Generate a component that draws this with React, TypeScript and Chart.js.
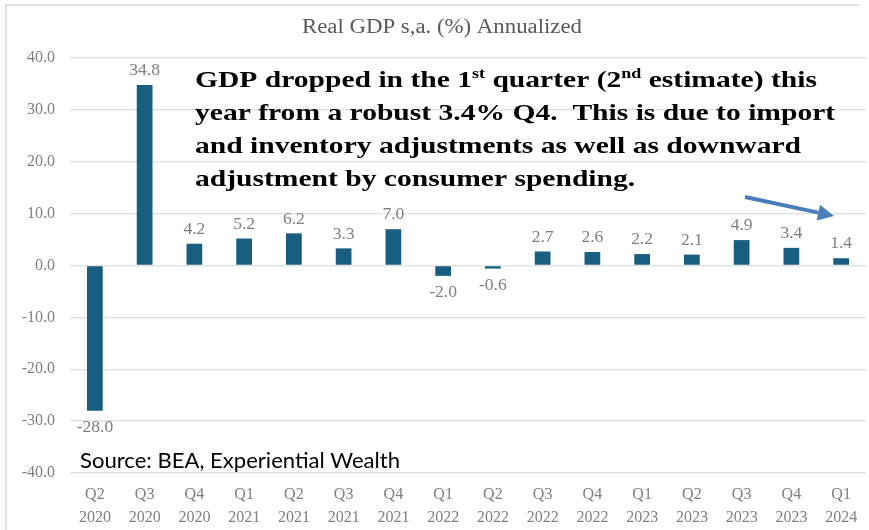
import React, { useEffect, useRef } from "react";
import { Chart, registerables } from "chart.js";

Chart.register(...registerables);

const categories: string[][] = [
  ["Q2", "2020"], ["Q3", "2020"], ["Q4", "2020"], ["Q1", "2021"],
  ["Q2", "2021"], ["Q3", "2021"], ["Q4", "2021"], ["Q1", "2022"],
  ["Q2", "2022"], ["Q3", "2022"], ["Q4", "2022"], ["Q1", "2023"],
  ["Q2", "2023"], ["Q3", "2023"], ["Q4", "2023"], ["Q1", "2024"],
];
const gdpValues: number[] = [-28.0, 34.8, 4.2, 5.2, 6.2, 3.3, 7.0, -2.0, -0.6, 2.7, 2.6, 2.2, 2.1, 4.9, 3.4, 1.4];
const yMin = -40;
const yMax = 40;
const yStep = 10;

const titleText = "Real GDP s,a. (%) Annualized";
const sourceText = "Source: BEA, Experiential Wealth";
type Seg = { t: string; sup?: boolean };
const noteLines: Seg[][] = [
  [{ t: "GDP dropped in the 1" }, { t: "st", sup: true }, { t: " quarter (2" }, { t: "nd", sup: true }, { t: " estimate) this" }],
  [{ t: "year from a robust 3.4% Q4.  This is due to import" }],
  [{ t: "and inventory adjustments as well as downward" }],
  [{ t: "adjustment by consumer spending." }],
];

const SERIF = "'Liberation Serif', 'DejaVu Serif', serif";
const GRAY = "#7f7f7f";
const BAR = "#175e80";

const decorPlugin = {
  id: "decor",
  beforeDraw(chart: any) {
    const ctx = chart.ctx;
    ctx.save();
    ctx.fillStyle = "#ffffff";
    ctx.fillRect(0, 0, chart.width, chart.height);
    ctx.strokeStyle = "#d9d9d9";
    ctx.lineWidth = 1.5;
    ctx.beginPath();
    ctx.moveTo(6, 530);
    ctx.lineTo(6, 5);
    ctx.lineTo(860, 5);
    ctx.stroke();
    ctx.restore();
  },
  afterDraw(chart: any) {
    const ctx = chart.ctx;
    ctx.save();
    // title
    ctx.font = `20px ${SERIF}`;
    ctx.fillStyle = "#595959";
    ctx.textBaseline = "middle";
    ctx.textAlign = "center";
    const tw = ctx.measureText(titleText).width;
    const tsx = 280 / tw;
    ctx.save();
    ctx.translate(442, 28);
    ctx.scale(tsx, 1);
    ctx.fillText(titleText, 0, 0);
    ctx.restore();

    // value labels
    const meta = chart.getDatasetMeta(0);
    ctx.font = `16px ${SERIF}`;
    ctx.fillStyle = GRAY;
    ctx.textAlign = "center";
    ctx.textBaseline = "middle";
    meta.data.forEach((el: any, i: number) => {
      const v = gdpValues[i];
      const y = v >= 0 ? el.y - 14 : el.y + 17;
      ctx.save();
      ctx.translate(el.x, y);
      ctx.scale(1.1, 1);
      ctx.fillText(v.toFixed(1), 0, 0);
      ctx.restore();
    });

    // annotation
    const size = 23;
    const supSize = Math.round(size * 0.6);
    ctx.fillStyle = "#000000";
    ctx.textAlign = "left";
    ctx.textBaseline = "alphabetic";
    const measureLine = (line: Seg[]) => {
      let w = 0;
      line.forEach((s) => {
        ctx.font = `bold ${s.sup ? supSize : size}px ${SERIF}`;
        w += ctx.measureText(s.t).width;
      });
      return w;
    };
    const sx = 606 / measureLine(noteLines[2]);
    noteLines.forEach((line, li) => {
      ctx.save();
      ctx.translate(195, 87 + li * 33);
      ctx.scale(sx, 1);
      let x = 0;
      line.forEach((s) => {
        ctx.font = `bold ${s.sup ? supSize : size}px ${SERIF}`;
        ctx.fillText(s.t, x, s.sup ? -size * 0.38 : 0);
        x += ctx.measureText(s.t).width;
      });
      ctx.restore();
    });

    // source
    ctx.font = `21px Lato, 'Noto Sans', sans-serif`;
    const sw = ctx.measureText(sourceText).width;
    ctx.save();
    ctx.translate(80, 468);
    ctx.scale(320 / sw, 1);
    ctx.fillStyle = "#000000";
    ctx.fillText(sourceText, 0, 0);
    ctx.restore();

    // arrow
    const x1 = 745, y1 = 197, x2 = 834, y2 = 216;
    const ang = Math.atan2(y2 - y1, x2 - x1);
    const headLen = 16, headW = 8;
    const bx = x2 - headLen * Math.cos(ang);
    const by = y2 - headLen * Math.sin(ang);
    ctx.strokeStyle = "#4a7ebb";
    ctx.fillStyle = "#4a7ebb";
    ctx.lineWidth = 4;
    ctx.beginPath();
    ctx.moveTo(x1, y1);
    ctx.lineTo(bx, by);
    ctx.stroke();
    ctx.beginPath();
    ctx.moveTo(x2, y2);
    ctx.lineTo(bx + headW * Math.sin(ang), by - headW * Math.cos(ang));
    ctx.lineTo(bx - headW * Math.sin(ang), by + headW * Math.cos(ang));
    ctx.closePath();
    ctx.fill();
    ctx.restore();
  },
};

export default function App() {
  const ref = useRef<HTMLCanvasElement | null>(null);
  useEffect(() => {
    document.body.style.margin = "0";
    const canvas = ref.current;
    if (!canvas) return;
    const chart = new Chart(canvas, {
      type: "bar",
      data: {
        labels: categories,
        datasets: [
          {
            data: gdpValues,
            backgroundColor: BAR,
            borderWidth: 0,
            barPercentage: 0.316,
            categoryPercentage: 1,
          },
        ],
      },
      options: {
        responsive: false,
        animation: false,
        devicePixelRatio: 1,
        layout: { padding: { top: 58, right: 3, left: 0, bottom: 0 } },
        plugins: { legend: { display: false }, tooltip: { enabled: false }, title: { display: false } },
        scales: {
          x: {
            grid: { display: false },
            border: { display: false },
            ticks: {
              font: { family: SERIF, size: 16, lineHeight: 1.4 },
              color: GRAY,
              padding: 3,
              maxRotation: 0,
              autoSkip: false,
            },
            afterFit: (s: any) => {
              s.height = 57;
            },
          },
          y: {
            min: yMin,
            max: yMax,
            ticks: {
              stepSize: yStep,
              callback: (v: any) => Number(v).toFixed(1),
              font: { family: SERIF, size: 16 },
              color: GRAY,
              padding: 15,
            },
            grid: { color: "#e3e3e3", lineWidth: 1.5, drawTicks: false },
            border: { display: false },
            afterFit: (s: any) => {
              s.width = 70;
            },
          },
        },
      },
      plugins: [decorPlugin],
    });
    return () => chart.destroy();
  }, []);
  return (
    <div style={{ width: 869, height: 530 }}>
      <canvas ref={ref} width={869} height={530} style={{ display: "block" }} />
    </div>
  );
}
